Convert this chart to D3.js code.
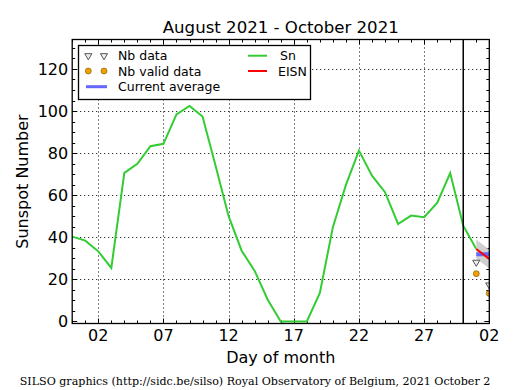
<!DOCTYPE html>
<html>
<head>
<meta charset="utf-8">
<script src="https://cdnjs.cloudflare.com/ajax/libs/d3/7.8.5/d3.min.js"></script>
<style>
  body { margin: 0; background: #fff; }
  svg { display: block; font-family: "DejaVu Sans", sans-serif; }
</style>
</head>
<body>
<div id="chart"></div>
<script>
// daily values, Aug 31 .. Oct 1 2021
var days = ["2021-08-31","2021-09-01","2021-09-02","2021-09-03","2021-09-04","2021-09-05",
  "2021-09-06","2021-09-07","2021-09-08","2021-09-09","2021-09-10","2021-09-11","2021-09-12",
  "2021-09-13","2021-09-14","2021-09-15","2021-09-16","2021-09-17","2021-09-18","2021-09-19",
  "2021-09-20","2021-09-21","2021-09-22","2021-09-23","2021-09-24","2021-09-25","2021-09-26",
  "2021-09-27","2021-09-28","2021-09-29","2021-09-30","2021-10-01"];
var sn = [40.3, 38.4, 33.3, 25.4, 70.6, 74.9, 83.3, 84.4, 98.4, 102.4, 97.4, 74, 50, 33.6,
  24, 10.3, 0, 0, 0, 13.5, 44.8, 64.9, 81.2, 69.3, 61.4, 46.3, 50.3, 49.5, 56.3, 70.5, 45.5, 34.4];

// provisional estimates for the current month
var eisnDays = ["2021-10-01", "2021-10-02"];
var eisn = [34.4, 29.7];
var eisnErr = [4.5, 4.5];
var currentAvg = 31.9;
var nbData = [28.1, 17.3];
var nbValid = [22.7, 13.3];

var xTickDays = ["2021-09-02","2021-09-07","2021-09-12","2021-09-17","2021-09-22","2021-09-27","2021-10-02"];
var yTicks = [0, 20, 40, 60, 80, 100, 120];
var monthStart = "2021-09-30";

var W = 515, H = 390,
  pLeft = 72.2, pRight = 489.3, pTop = 39.5, pBottom = 323.5;

var parse = d3.utcParse("%Y-%m-%d");
var x = d3.scaleUtc()
  .domain([parse("2021-08-31"), parse("2021-10-02")])
  .range([pLeft, pRight]);
var y = d3.scaleLinear()
  .domain([-1, 134])
  .range([pBottom, pTop]);

var svg = d3.select("#chart").append("svg")
  .attr("width", W).attr("height", H);

svg.append("defs").append("clipPath").attr("id", "clip")
  .append("rect")
  .attr("x", pLeft).attr("y", pTop)
  .attr("width", pRight - pLeft).attr("height", pBottom - pTop);

// grid
var grid = svg.append("g")
  .attr("stroke", "#000").attr("stroke-width", 1).attr("stroke-dasharray", "1,3");
grid.selectAll(".gx").data(xTickDays.slice(0, -1)).enter().append("line")
  .attr("x1", function (d) { return Math.round(x(parse(d))) + 0.5; })
  .attr("x2", function (d) { return Math.round(x(parse(d))) + 0.5; })
  .attr("y1", pTop).attr("y2", pBottom);
grid.selectAll(".gy").data(yTicks.slice(1)).enter().append("line")
  .attr("x1", pLeft).attr("x2", pRight)
  .attr("y1", function (d) { return Math.round(y(d)) + 0.5; })
  .attr("y2", function (d) { return Math.round(y(d)) + 0.5; });

// ticks (inward, on all four sides)
var ticks = svg.append("g").attr("stroke", "#000").attr("stroke-width", 1);
var allDays = d3.utcDay.range(x.domain()[0], d3.utcDay.offset(x.domain()[1], 1));
var majorSet = xTickDays.map(function (d) { return +parse(d); });
allDays.forEach(function (d) {
  var px = Math.round(x(d)) + 0.5;
  var len = majorSet.indexOf(+d) >= 0 ? 5 : 3;
  ticks.append("line").attr("x1", px).attr("x2", px).attr("y1", pBottom).attr("y2", pBottom - len);
  ticks.append("line").attr("x1", px).attr("x2", px).attr("y1", pTop).attr("y2", pTop + len);
});
d3.range(0, 135, 5).forEach(function (v) {
  var py = Math.round(y(v)) + 0.5;
  var len = v % 20 === 0 ? 5 : 3;
  ticks.append("line").attr("x1", pLeft).attr("x2", pLeft + len).attr("y1", py).attr("y2", py);
  ticks.append("line").attr("x1", pRight).attr("x2", pRight - len).attr("y1", py).attr("y2", py);
});

var plot = svg.append("g").attr("clip-path", "url(#clip)");

// Sn
var line = d3.line()
  .x(function (d, i) { return x(parse(days[i])); })
  .y(function (d) { return y(d); });
plot.append("path")
  .datum(sn)
  .attr("d", line)
  .attr("fill", "none")
  .attr("stroke", "#33cc33")
  .attr("stroke-width", 2);

// EISN error band
var band = d3.area()
  .x(function (d, i) { return x(parse(eisnDays[i])); })
  .y0(function (d, i) { return y(d - eisnErr[i]); })
  .y1(function (d, i) { return y(d + eisnErr[i]); });
plot.append("path").datum(eisn).attr("d", band)
  .attr("fill", "#c8c8c8").attr("opacity", 0.85);

// current average
plot.append("line")
  .attr("x1", x(parse(eisnDays[0]))).attr("x2", x(parse(eisnDays[1])))
  .attr("y1", y(currentAvg)).attr("y2", y(currentAvg))
  .attr("stroke", "#6666ff").attr("stroke-width", 4);

// EISN
var eline = d3.line()
  .x(function (d, i) { return x(parse(eisnDays[i])); })
  .y(function (d) { return y(d); });
plot.append("path").datum(eisn).attr("d", eline)
  .attr("fill", "none").attr("stroke", "#ff0000").attr("stroke-width", 2);

// Nb data / Nb valid data
var tri = d3.symbol().type(d3.symbolTriangle).size(22);
plot.selectAll(".nb").data(nbData).enter().append("path")
  .attr("d", tri)
  .attr("transform", function (d, i) {
    return "translate(" + x(parse(eisnDays[i])) + "," + y(d) + ") rotate(180)";
  })
  .attr("fill", "#eee").attr("stroke", "#555").attr("stroke-width", 1);
plot.selectAll(".nv").data(nbValid).enter().append("circle")
  .attr("cx", function (d, i) { return x(parse(eisnDays[i])); })
  .attr("cy", function (d) { return y(d); })
  .attr("r", 3)
  .attr("fill", "#f0a000").attr("stroke", "#7a5200").attr("stroke-width", 0.6);

// start of current month
svg.append("line")
  .attr("x1", x(parse(monthStart))).attr("x2", x(parse(monthStart)))
  .attr("y1", pTop).attr("y2", pBottom)
  .attr("stroke", "#000").attr("stroke-width", 1.5);

// frame
svg.append("rect")
  .attr("x", pLeft).attr("y", pTop)
  .attr("width", pRight - pLeft).attr("height", pBottom - pTop)
  .attr("fill", "none").attr("stroke", "#000").attr("stroke-width", 1.3);

// tick labels
svg.selectAll(".xl").data(xTickDays).enter().append("text")
  .attr("x", function (d) { return x(parse(d)); })
  .attr("y", 341)
  .attr("text-anchor", "middle")
  .attr("font-size", 16)
  .text(function (d) { return d3.utcFormat("%d")(parse(d)); });
svg.selectAll(".yl").data(yTicks).enter().append("text")
  .attr("x", pLeft - 4)
  .attr("y", function (d) { return y(d) + 6; })
  .attr("text-anchor", "end")
  .attr("font-size", 16)
  .text(function (d) { return d; });

// titles
svg.append("text").attr("x", (pLeft + pRight) / 2).attr("y", 33)
  .attr("text-anchor", "middle").attr("font-size", 16.6)
  .text("August 2021 - October 2021");
svg.append("text").attr("x", (pLeft + pRight) / 2).attr("y", 363)
  .attr("text-anchor", "middle").attr("font-size", 16)
  .text("Day of month");
svg.append("text")
  .attr("transform", "translate(28," + (pTop + pBottom) / 2 + ") rotate(-90)")
  .attr("text-anchor", "middle").attr("font-size", 16)
  .text("Sunspot Number");
svg.append("text").attr("x", 255).attr("y", 385)
  .attr("text-anchor", "middle").attr("font-size", 11.1)
  .attr("font-family", "DejaVu Serif, serif")
  .text("SILSO graphics (http://sidc.be/silso) Royal Observatory of Belgium, 2021 October 2");

// legend
var lg = svg.append("g");
lg.append("rect").attr("x", 78.5).attr("y", 45.5).attr("width", 232).attr("height", 54)
  .attr("fill", "#fff").attr("stroke", "#000").attr("stroke-width", 1.3);
var rows = [55.7, 71, 86.7];
[88.3, 104].forEach(function (px) {
  lg.append("path").attr("d", tri)
    .attr("transform", "translate(" + px + "," + rows[0] + ") rotate(180)")
    .attr("fill", "#eee").attr("stroke", "#555").attr("stroke-width", 1);
  lg.append("circle").attr("cx", px).attr("cy", rows[1]).attr("r", 3)
    .attr("fill", "#f0a000").attr("stroke", "#7a5200").attr("stroke-width", 0.6);
});
lg.append("line").attr("x1", 86).attr("x2", 107).attr("y1", rows[2]).attr("y2", rows[2])
  .attr("stroke", "#6666ff").attr("stroke-width", 3);
lg.append("line").attr("x1", 248).attr("x2", 267).attr("y1", rows[0]).attr("y2", rows[0])
  .attr("stroke", "#33cc33").attr("stroke-width", 2);
lg.append("line").attr("x1", 248).attr("x2", 267).attr("y1", rows[1]).attr("y2", rows[1])
  .attr("stroke", "#ff0000").attr("stroke-width", 2);
var labels = [["Nb data", 118, rows[0]], ["Nb valid data", 118, rows[1]], ["Current average", 118, rows[2]],
  ["Sn", 280, rows[0]], ["EISN", 278, rows[1]]];
lg.selectAll(".lt").data(labels).enter().append("text")
  .attr("x", function (d) { return d[1]; })
  .attr("y", function (d) { return d[2] + 4.5; })
  .attr("font-size", 12.5)
  .text(function (d) { return d[0]; });
</script>
</body>
</html>
